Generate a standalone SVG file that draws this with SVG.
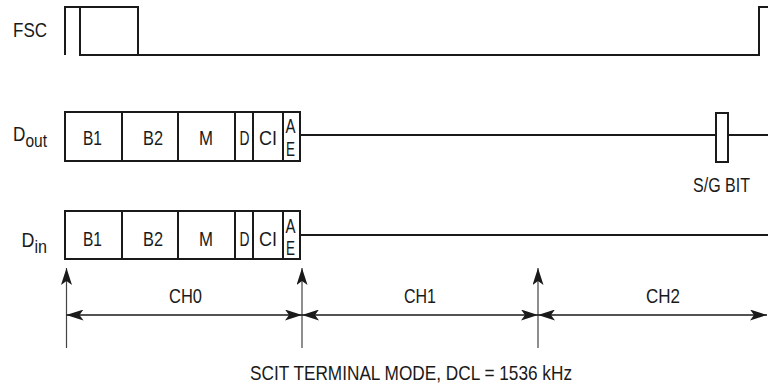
<svg xmlns="http://www.w3.org/2000/svg" width="768" height="390" viewBox="0 0 768 390">
<style>
text{font-family:"Liberation Sans",Arial,sans-serif;font-size:21px;fill:#1a1a1a}
.sub{font-size:19px}
.w{fill:none;stroke:#1a1a1a;stroke-width:2}
.box{fill:#fff;stroke:#1a1a1a;stroke-width:2}
.dim{fill:none;stroke:#1a1a1a;stroke-width:1.5}
.tick{fill:none;stroke:#444;stroke-width:1.2}
</style>
<defs>
<marker id="ah" markerUnits="userSpaceOnUse" markerWidth="17" markerHeight="11" viewBox="0 0 17 11" refX="17" refY="5.5" orient="auto-start-reverse">
<path d="M0,0 L17,5.5 L0,11 L4,5.5 Z" fill="#1a1a1a"/>
</marker>
</defs>
<rect width="768" height="390" fill="#fff"/>

<g id="fsc">
<text x="13" y="37" textLength="34" lengthAdjust="spacingAndGlyphs">FSC</text>
<path class="w" d="M65,55 V7 H138 V55 M80,7 V55 H759 V7 H768"/>
</g>

<g id="dout">
<text x="13" y="141" textLength="34" lengthAdjust="spacingAndGlyphs">D<tspan class="sub" dy="6">out</tspan></text>
<line class="w" x1="300" y1="135" x2="768" y2="135"/>
<rect class="box" x="65" y="112" width="235" height="49"/>
<path class="w" d="M122,112V161 M178,112V161 M235,112V161 M253,112V161 M283,112V161"/>
<text x="83" y="145" textLength="19" lengthAdjust="spacingAndGlyphs">B1</text>
<text x="143" y="145" textLength="20" lengthAdjust="spacingAndGlyphs">B2</text>
<text x="199" y="145" textLength="14" lengthAdjust="spacingAndGlyphs">M</text>
<text x="239.5" y="145" textLength="10" lengthAdjust="spacingAndGlyphs">D</text>
<text x="259" y="145" textLength="18" lengthAdjust="spacingAndGlyphs">CI</text>
<text x="285.5" y="133" textLength="10" lengthAdjust="spacingAndGlyphs">A</text>
<text x="286" y="156" textLength="9" lengthAdjust="spacingAndGlyphs">E</text>
</g>

<g id="sg-bit">
<rect class="box" x="716" y="113" width="12" height="49"/>
<text x="693" y="192" textLength="57" lengthAdjust="spacingAndGlyphs">S/G BIT</text>
</g>

<g id="din">
<text x="21.5" y="247" textLength="25.5" lengthAdjust="spacingAndGlyphs">D<tspan class="sub" dy="6">in</tspan></text>
<line class="w" x1="300" y1="235" x2="768" y2="235"/>
<rect class="box" x="65" y="211" width="235" height="48"/>
<path class="w" d="M122,211V259 M178,211V259 M235,211V259 M253,211V259 M283,211V259"/>
<text x="83" y="246" textLength="19" lengthAdjust="spacingAndGlyphs">B1</text>
<text x="143" y="246" textLength="20" lengthAdjust="spacingAndGlyphs">B2</text>
<text x="199" y="246" textLength="14" lengthAdjust="spacingAndGlyphs">M</text>
<text x="239.5" y="246" textLength="10" lengthAdjust="spacingAndGlyphs">D</text>
<text x="259" y="246" textLength="18" lengthAdjust="spacingAndGlyphs">CI</text>
<text x="285.5" y="233" textLength="10" lengthAdjust="spacingAndGlyphs">A</text>
<text x="286" y="255" textLength="9" lengthAdjust="spacingAndGlyphs">E</text>
</g>

<g id="connectors">
<line class="tick" x1="66.5" y1="348" x2="66.5" y2="268" marker-end="url(#ah)"/>
<line class="tick" x1="302" y1="348" x2="302" y2="268" marker-end="url(#ah)"/>
<line class="tick" x1="538" y1="348" x2="538" y2="268" marker-end="url(#ah)"/>
<line class="dim" x1="66.5" y1="315" x2="302" y2="315" marker-start="url(#ah)" marker-end="url(#ah)"/>
<line class="dim" x1="302" y1="315" x2="538" y2="315" marker-start="url(#ah)" marker-end="url(#ah)"/>
<line class="dim" x1="538" y1="315" x2="767" y2="315" marker-start="url(#ah)" marker-end="url(#ah)"/>
</g>

<g id="labels">
<text x="169" y="303" textLength="33" lengthAdjust="spacingAndGlyphs">CH0</text>
<text x="404" y="303" textLength="32" lengthAdjust="spacingAndGlyphs">CH1</text>
<text x="646" y="303" textLength="34" lengthAdjust="spacingAndGlyphs">CH2</text>
<text x="250" y="380" textLength="322" lengthAdjust="spacingAndGlyphs">SCIT TERMINAL MODE, DCL = 1536 kHz</text>
</g>
</svg>
